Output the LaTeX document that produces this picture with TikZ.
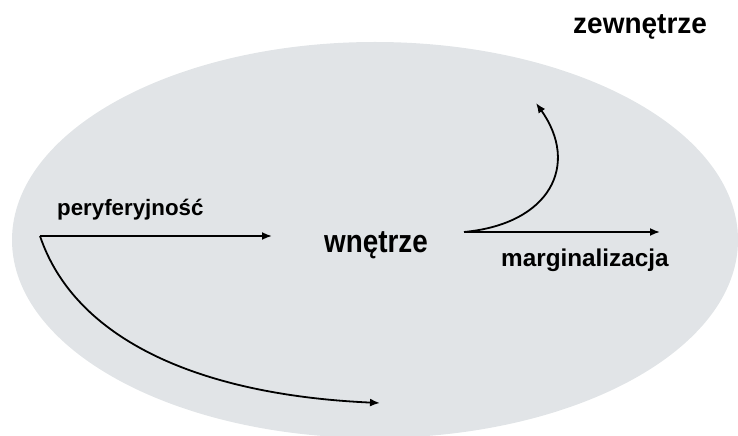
\documentclass[tikz,border=0pt]{standalone}
\usepackage{fontspec}
\setmainfont{Liberation Sans}
\usetikzlibrary{arrows.meta}
\definecolor{ovalgrey}{RGB}{225,228,231}
\tikzset{
  lbl/.style={anchor=base west, inner sep=0pt, font=\bfseries},
  arr/.style={line width=1.8bp, -{Latex[length=10bp,width=8bp]}},
}
\begin{document}
\begin{tikzpicture}[x=1bp,y=-1bp]
\useasboundingbox (0,0) rectangle (738,436);
\clip (0,0) rectangle (738,436);
\fill[ovalgrey] (375,240) ellipse [x radius=363, y radius=198];
\node[lbl, font=\bfseries\fontsize{29bp}{32bp}\selectfont] (zew) at (573,33.3) {\scalebox{0.965}[1]{zewnętrze}};
\node[lbl, font=\bfseries\fontsize{32bp}{36bp}\selectfont] (wne) at (324,252.3) {\scalebox{0.87}[1]{wnętrze}};
\node[lbl, font=\bfseries\fontsize{22.3bp}{26bp}\selectfont] (per) at (57,216) {peryferyjność};
\node[lbl, font=\bfseries\fontsize{24.3bp}{28bp}\selectfont] (mar) at (501,266.7) {marginalizacja};
\coordinate (a0) at (40,236);
\coordinate (a1) at (272,236);
\coordinate (b1) at (380,403);
\coordinate (c0) at (464,232);
\coordinate (c1) at (660,232);
\coordinate (d1) at (536,103);
\draw[arr] (a0) -- (a1);
\draw[arr] (a0) .. controls (75,340) and (200,395) .. (b1);
\draw[arr] (c0) -- (c1);
\draw[arr] (c0) .. controls (550,224) and (580,165) .. (d1);
\end{tikzpicture}
\end{document}
